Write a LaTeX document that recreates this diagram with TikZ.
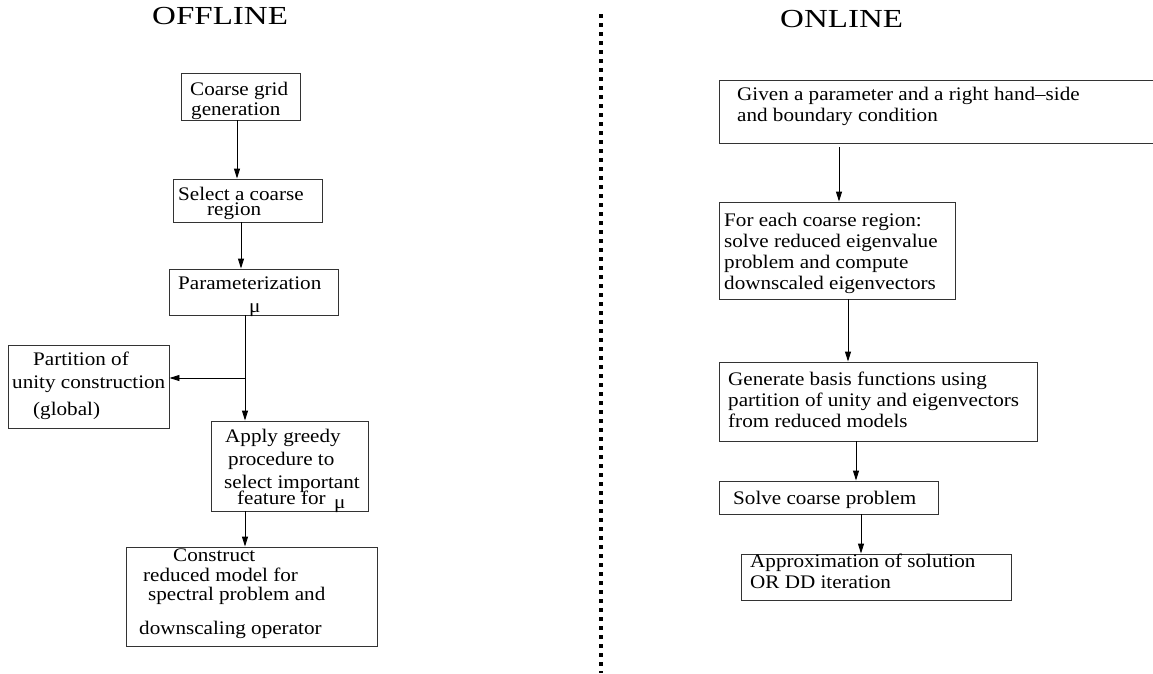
\documentclass[tikz,border=0pt]{standalone}
\usepackage{fontspec}
\setmainfont{Liberation Serif}[FakeStretch=1.1]
\newfontfamily\titlefont{Liberation Serif}[FakeStretch=1.27]
\usetikzlibrary{arrows.meta}

\begin{document}
\begin{tikzpicture}[x=1pt,y=-1pt,
  box/.style={draw=black!80,line width=0.9pt,inner sep=0pt},
  txt/.style={anchor=base west,inner sep=0pt,font=\fontsize{19.2}{21}\selectfont},
  ttl/.style={anchor=base west,inner sep=0pt,font=\titlefont\fontsize{26}{30}\selectfont},
  arr/.style={line width=0.9pt,-{Triangle[length=10pt,width=6pt]}}]
\useasboundingbox (0,0) rectangle (1153,673);
\clip (0,0) rectangle (1153,673);

% titles and separator
\node[ttl] (off) at (152,24) {OFFLINE};
\node[ttl] (on) at (780,27) {ONLINE};
\draw[line width=4pt,dash pattern=on 4pt off 5pt] (601,14) -- (601,673);

% offline boxes
\node[box,minimum width=119,minimum height=47] (grid) at (240.5,96.5) {};
\node[box,minimum width=149,minimum height=43] (select) at (247.5,200.5) {};
\node[box,minimum width=169,minimum height=46] (param) at (253.5,292) {};
\node[box,minimum width=161,minimum height=83] (part) at (88.5,386.5) {};
\node[box,minimum width=157,minimum height=90] (greedy) at (289.5,466) {};
\node[box,minimum width=251,minimum height=99] (constr) at (251.5,596.5) {};

% online boxes
\node[box,minimum width=460,minimum height=63] (given) at (949,111.5) {};
\node[box,minimum width=236,minimum height=97] (region) at (837,250.5) {};
\node[box,minimum width=318,minimum height=79] (basis) at (878,401.5) {};
\node[box,minimum width=219,minimum height=33] (solve) at (828.5,497.5) {};
\node[box,minimum width=270,minimum height=46] (approx) at (876,577) {};

% box texts, line by line
\foreach \x/\y/\t [count=\i] in {
  190/95/Coarse grid, 191/115/generation,
  178/200/Select a coarse, 207/215/region,
  178/289/Parameterization, 249/312/μ,
  33/365/Partition of, 12/388/unity construction, 33/415/(global),
  225/442/Apply greedy, 228/465/procedure to, 224/488/select important,
  237/504/feature for, 334/508/μ,
  173/561/Construct, 143/581/reduced model for,
  148/600/spectral problem and, 139/634/downscaling operator,
  737/100/Given a parameter and a right hand--side,
  737/121/and boundary condition,
  724/226/For each coarse region:, 724/247/solve reduced eigenvalue,
  724/268/problem and compute, 724/289/downscaled eigenvectors,
  728/385/Generate basis functions using,
  728/406/partition of unity and eigenvectors,
  728/427/from reduced models,
  733/504/Solve coarse problem,
  750/567/Approximation of solution, 750/588/OR DD iteration} {
  \node[txt] (t\i) at (\x,\y) {\t};
}

% offline flow
\coordinate (jn) at (245,378);
\draw[arr] (grid.south -| 237,0) -- (select.north -| 237,0);
\draw[arr] (select.south -| 241,0) -- (param.north -| 241,0);
\draw[arr] (param.south -| 245,0) -- (greedy.north -| 245,0);
\draw[arr] (jn) -- (jn -| part.east);
\draw[arr] (greedy.south -| 245,0) -- (constr.north -| 245,0);

% online flow
\draw[arr] ([yshift=-4pt]given.south -| 839,0) -- (region.north -| 839,0);
\draw[arr] (region.south -| 848,0) -- (basis.north -| 848,0);
\draw[arr] (basis.south -| 856,0) -- (solve.north -| 856,0);
\draw[arr] (solve.south -| 861,0) -- (approx.north -| 861,0);
\end{tikzpicture}
\end{document}
